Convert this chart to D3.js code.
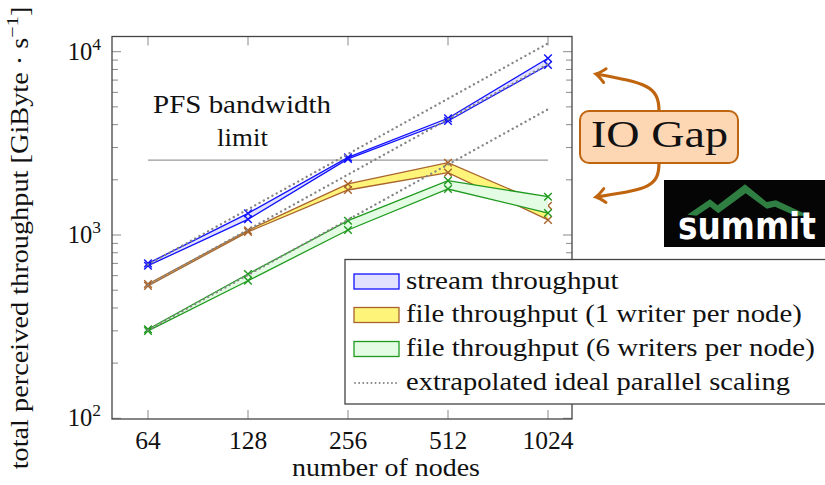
<!DOCTYPE html>
<html>
<head>
<meta charset="utf-8">
<script src="https://cdn.jsdelivr.net/npm/d3@7"></script>
<style>
  body { margin: 0; background: #fff; }
  svg text { font-family: "Liberation Serif", serif; fill: #111; }
</style>
</head>
<body>
<div id="vis"></div>
<script>
// data (GiByte/s)
var nodes = [64, 128, 256, 512, 1024];
var streamHi = [700, 1313, 2650, 4333, 9205];
var streamLo = [680, 1218, 2600, 4188, 8461];
var file1Hi = [540, 1060, 1898, 2480, 1445];
var file1Lo = [528, 1040, 1760, 2188, 1208];
var file6Hi = [306, 613, 1197, 1979, 1618];
var file6Lo = [300, 563, 1065, 1782, 1318];
// ideal scaling lines: value at 64 and at 1024 nodes
var idealNodes = [64, 1024];
var idealStream = [690, 11100];
var idealFile1 = [534, 8550];
var idealFile6 = [303, 4850];
var pfsLimit = 2560;
var legendLabels = ["stream throughput", "file throughput (1 writer per node)",
  "file throughput (6 writers per node)", "extrapolated ideal parallel scaling"];

var w = 825, h = 485;
var frame = {l: 112, r: 572, t: 36.5, b: 419};

var svg = d3.select("#vis").append("svg")
  .attr("width", w)
  .attr("height", h);

var x = d3.scaleLog().base(2).domain([64, 1024]).range([148, 548]);
var y = d3.scaleLog().domain([100, 10000]).range([418.3, 51.7]);

// text stretched to the width it has in the picture (the original font is wider)
function label(parent, px, py, str, size, anchor, width, rot) {
  var g = parent.append("g")
    .attr("transform", "translate(" + px + "," + py + ")" + (rot ? " rotate(-90)" : ""));
  var t = g.append("text").attr("font-size", size).attr("text-anchor", anchor).text(str);
  if (width) {
    var bw = t.node().getBBox().width;
    t.attr("transform", "scale(" + (width / bw) + ",1)");
  }
  return t;
}

// ticks (inside, both sides)
var ticksG = svg.append("g").attr("stroke", "#8a8a8a").attr("stroke-width", 1);
y.ticks().forEach(function(v) {
  var major = Math.abs(Math.log10(v) - Math.round(Math.log10(v))) < 1e-9;
  var len = major ? 9 : 6;
  var yy = y(v);
  ticksG.append("line").attr("x1", frame.l).attr("x2", frame.l + len).attr("y1", yy).attr("y2", yy);
  ticksG.append("line").attr("x1", frame.r).attr("x2", frame.r - len).attr("y1", yy).attr("y2", yy);
});
nodes.forEach(function(n) {
  ticksG.append("line").attr("x1", x(n)).attr("x2", x(n)).attr("y1", frame.b).attr("y2", frame.b - 9);
  ticksG.append("line").attr("x1", x(n)).attr("x2", x(n)).attr("y1", frame.t).attr("y2", frame.t + 9);
});

// tick labels
nodes.forEach(function(n) {
  svg.append("text").attr("x", x(n)).attr("y", 449)
    .attr("text-anchor", "middle").attr("font-size", 25.5).text(n);
});
[100, 1000, 10000].forEach(function(v) {
  var t = svg.append("text").attr("x", 101).attr("y", y(v) + 8)
    .attr("text-anchor", "end").attr("font-size", 24.5);
  t.append("tspan").text("10");
  t.append("tspan").attr("font-size", 17.5).attr("dy", -10).text(Math.round(Math.log10(v)));
});

// PFS bandwidth limit
svg.append("line")
  .attr("x1", x(64)).attr("x2", x(1024))
  .attr("y1", y(pfsLimit)).attr("y2", y(pfsLimit))
  .attr("stroke", "#9a9a9a").attr("stroke-width", 1.3);
label(svg, 242, 113, "PFS bandwidth", 24.5, "middle", 178);
label(svg, 242.5, 145.5, "limit", 24.5, "middle", 51);

// series
var series = [
  {hi: streamHi, lo: streamLo, line: "#1010ff", fill: "#e2e2ff"},
  {hi: file1Hi, lo: file1Lo, line: "#a8642c", fill: "#fff47a"},
  {hi: file6Hi, lo: file6Lo, line: "#1f9a1f", fill: "#e4fbe4"}
];

var area = d3.area()
  .x(function(d) { return x(d.n); })
  .y0(function(d) { return y(d.lo); })
  .y1(function(d) { return y(d.hi); });
var line = d3.line()
  .x(function(d) { return x(d[0]); })
  .y(function(d) { return y(d[1]); });

series.forEach(function(s) {
  var pts = nodes.map(function(n, i) { return {n: n, hi: s.hi[i], lo: s.lo[i]}; });
  svg.append("path").attr("d", area(pts)).attr("fill", s.fill).attr("stroke", "none");
  [s.hi, s.lo].forEach(function(arr) {
    var xy = nodes.map(function(n, i) { return [n, arr[i]]; });
    svg.append("path").attr("d", line(xy))
      .attr("fill", "none").attr("stroke", s.line).attr("stroke-width", 1.3);
    svg.append("g").selectAll("path")
      .data(xy).enter()
      .append("path")
      .attr("d", "M-3.8,-3.8L3.8,3.8M-3.8,3.8L3.8,-3.8")
      .attr("transform", function(d) { return "translate(" + x(d[0]) + "," + y(d[1]) + ")"; })
      .attr("stroke", s.line).attr("stroke-width", 1.4);
  });
});

// ideal scaling, dotted
[idealStream, idealFile1, idealFile6].forEach(function(arr) {
  var xy = idealNodes.map(function(n, i) { return [n, arr[i]]; });
  svg.append("path").attr("d", line(xy))
    .attr("fill", "none").attr("stroke", "#858585")
    .attr("stroke-width", 2.3).attr("stroke-linecap", "round")
    .attr("stroke-dasharray", "0.1,4.8");
});

// frame
svg.append("rect")
  .attr("x", frame.l).attr("y", frame.t)
  .attr("width", frame.r - frame.l).attr("height", frame.b - frame.t)
  .attr("fill", "none").attr("stroke", "#444").attr("stroke-width", 1.3);

// axis titles
label(svg, 386, 476, "number of nodes", 24.5, "middle", 188);
var ylG = svg.append("g").attr("transform", "translate(28,238) rotate(-90)");
var yl = ylG.append("text").attr("text-anchor", "middle").attr("font-size", 24.5);
yl.append("tspan").text("total perceived throughput [GiByte \u00b7 s");
yl.append("tspan").attr("font-size", 17.5).attr("dy", -10).text("\u22121");
yl.append("tspan").attr("dy", 10).text("]");
yl.attr("transform", "scale(" + (463 / yl.node().getBBox().width) + ",1)");

// legend
var lg = svg.append("g");
lg.append("rect").attr("x", 345).attr("y", 259.5).attr("width", 500).attr("height", 144.5)
  .attr("fill", "#fff").attr("stroke", "#444").attr("stroke-width", 1.3);
var rowY = [281.5, 315, 349, 383];
var rowW = [213, 396, 409, 384];
series.forEach(function(s, i) {
  lg.append("rect").attr("x", 354).attr("y", rowY[i] - 7.5).attr("width", 45).attr("height", 15)
    .attr("fill", s.fill).attr("stroke", s.line).attr("stroke-width", 1.3);
});
lg.append("line").attr("x1", 355).attr("x2", 399).attr("y1", rowY[3]).attr("y2", rowY[3])
  .attr("stroke", "#858585").attr("stroke-width", 1.8).attr("stroke-linecap", "round")
  .attr("stroke-dasharray", "0.1,4");
legendLabels.forEach(function(t, i) {
  label(lg, 406, rowY[i] + 7, t, 24.5, "start", rowW[i]);
});

// IO Gap annotation
var arrowCol = "#c0650f";
var defs = svg.append("defs");
defs.append("marker").attr("id", "head")
  .attr("markerUnits", "userSpaceOnUse").attr("orient", "auto")
  .attr("refX", 0).attr("refY", 0)
  .attr("markerWidth", 30).attr("markerHeight", 30)
  .attr("overflow", "visible")
  .append("path").attr("d", "M-9,-7 Q-3,-1.5 0,0 Q-3,1.5 -9,7")
  .attr("fill", "none").attr("stroke", arrowCol).attr("stroke-width", 3)
  .attr("stroke-linecap", "round");
svg.append("path").attr("d", "M659,111 C659,86 646,83 596,74")
  .attr("fill", "none").attr("stroke", arrowCol).attr("stroke-width", 3.2)
  .attr("marker-end", "url(#head)");
svg.append("path").attr("d", "M659,163 C659,188 646,189 596,197")
  .attr("fill", "none").attr("stroke", arrowCol).attr("stroke-width", 3.2)
  .attr("marker-end", "url(#head)");
svg.append("rect").attr("x", 580).attr("y", 111).attr("width", 158).attr("height", 52)
  .attr("rx", 9).attr("fill", "#fdd6b4").attr("stroke", arrowCol).attr("stroke-width", 2);
label(svg, 659.5, 146.5, "IO Gap", 39, "middle", 137);

// summit logo
var logo = svg.append("g");
logo.append("rect").attr("x", 664).attr("y", 180).attr("width", 161).attr("height", 67).attr("fill", "#050505");
var ridge = [[112,134],[180,88],[203,106],[285,43],[350,96],[378,91],[478,137],
  [436,137],[375,110],[350,116],[287,70],[205,130],[180,110],[140,137]];
logo.append("path")
  .attr("d", "M" + ridge.map(function(p) { return (650 + p[0] / 3) + "," + (170 + p[1] / 3); }).join("L") + "Z")
  .attr("fill", "#2f7f42");
var st = label(logo, 678, 239, "summit", 38, "start", 138);
st.style("font-family", "'DejaVu Sans', sans-serif").style("font-weight", "900").style("fill", "#fff");
st.attr("transform", "scale(" + (138 / st.node().getBBox().width) + ",1)");
</script>
</body>
</html>
